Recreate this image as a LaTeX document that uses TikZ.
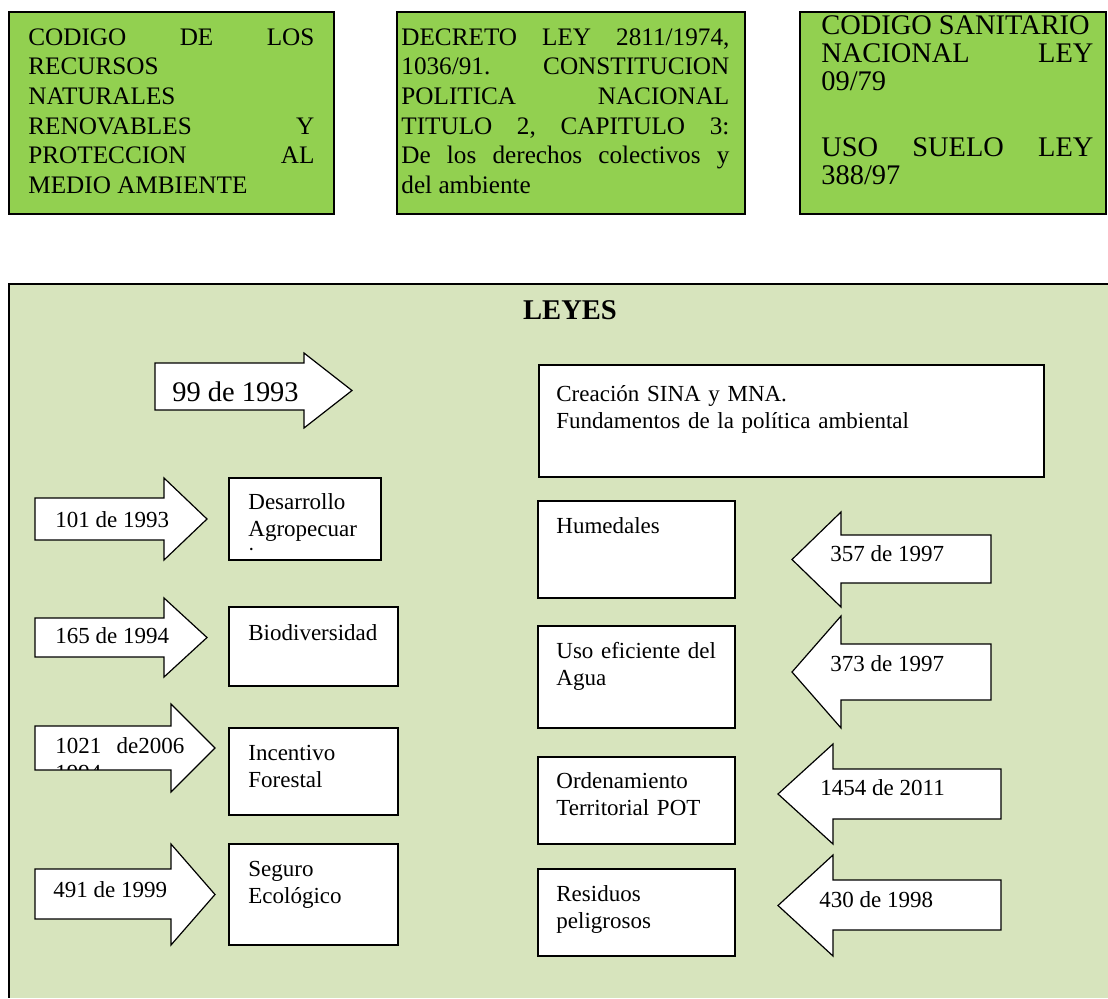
\documentclass[tikz,border=0pt]{standalone}
\usepackage{fontspec}
\setmainfont{Liberation Serif}
\usetikzlibrary{positioning}
\definecolor{leygreen}{HTML}{92D050}
\definecolor{panelgreen}{HTML}{D7E4BD}
\tikzset{
  topbox/.style={draw=black,line width=0.9pt,fill=leygreen},
  lawbox/.style={draw=black,line width=0.75pt,fill=white},
  lawarrow/.style={draw=black,line width=0.6pt,fill=white},
  toptext/.style={anchor=base west,inner sep=0pt,align=justify,text width=#1,
    font=\fontsize{12.6}{14.8}\selectfont},
  boxtext/.style={anchor=base west,inner sep=0pt,align=left,text width=#1,
    font=\fontsize{11.5}{13.5}\selectfont},
  numtext/.style={anchor=base west,inner sep=0pt,font=\fontsize{11.5}{13.5}\selectfont}
}
\begin{document}
\begin{tikzpicture}[x=0.5pt,y=-0.5pt]
\useasboundingbox (0,0) rectangle (1108,998);
% cuadros superiores
\draw[topbox] (9,12) rectangle (334,214);
\node[toptext=143pt] (codigo) at (28,45.3) {CODIGO\hfill DE\hfill LOS\\ RECURSOS\\ NATURALES\\ RENOVABLES\hfill Y\\ PROTECCION\hfill AL\\ MEDIO AMBIENTE};
\draw[topbox] (397,12) rectangle (745,214);
\node[toptext=164pt] (decreto) at (401,45.3) {DECRETO\hfill LEY\hfill 2811/1974,\\ 1036/91.\hfill CONSTITUCION\\ POLITICA\hfill NACIONAL\\ TITULO\hfill 2,\hfill CAPITULO\hfill 3:\\ De\hfill los\hfill derechos\hfill colectivos\hfill y\\ del ambiente};
\draw[topbox] (800,12) rectangle (1106,214);
\node[toptext=136pt,font=\fontsize{14.2}{14}\selectfont] (sanitario) at (821,34.4) {CODIGO SANITARIO\\ NACIONAL\hfill LEY\\ 09/79\\[19pt] USO\hfill SUELO\hfill LEY\\ 388/97};
% panel de leyes
\fill[panelgreen] (9,284) rectangle (1108,998);
\draw[line width=1.1pt] (1108,284) -- (9,284) -- (9,998);
\node[font=\bfseries\fontsize{14.3}{16}\selectfont] (leyes) at (570,310) {LEYES};
% flechas hacia la derecha
\foreach \l/\b/\t/\st/\sb/\ht/\hb in {155/304/352/363/410/353/428, 35/164/207/498/540/478/560,
  35/164/207/618/657/598/677, 35/171/215/726/770/704/792, 35/171/215/869/919/844/945} {
  \draw[lawarrow] (\l,\st) -- (\b,\st) -- (\b,\ht) -- (\t,{(\ht+\hb)/2}) -- (\b,\hb) -- (\b,\sb) -- (\l,\sb) -- cycle;
}
% flechas hacia la izquierda
\foreach \r/\b/\t/\st/\sb/\ht/\hb in {991/841/792/535/583/512/607, 991/841/792/644/700/616/728,
  1001/833/778/769/819/744/844, 1001/833/778/880/930/855/956} {
  \draw[lawarrow] (\r,\st) -- (\b,\st) -- (\b,\ht) -- (\t,{(\ht+\hb)/2}) -- (\b,\hb) -- (\b,\sb) -- (\r,\sb) -- cycle;
}
% cuadros
\foreach \xa/\ya/\xb/\yb in {539/365/1044/477, 229/478/381/560, 229/607/398/686, 229/728/398/815,
  229/844/398/945, 538/501/735/598, 538/626/735/728, 538/757/735/844, 538/869/735/956} {
  \draw[lawbox] (\xa,\ya) rectangle (\xb,\yb);
}
% numeros de las leyes
\node[numtext,font=\fontsize{14.2}{16}\selectfont] (a0) at (172,401) {99 de 1993};
\foreach \n/\x/\y/\txt in {a1/55/527/101 de 1993, a2/55/643/165 de 1994, a4/53/897/491 de 1999,
  d1/830/561/357 de 1997, d2/830/671/373 de 1997, d3/820/795/1454 de 2011, d4/819/907/430 de 1998} {
  \node[numtext] (\n) at (\x,\y) {\txt};
}
\begin{scope}
  \clip (35,700) rectangle (215,769);
  \node[boxtext=100pt] (a3) at (55,753) {1021\ \ de2006\\1994};
\end{scope}
% textos de los cuadros
\foreach \n/\x/\y/\txt in {t0/556/401/{Creación SINA y MNA.\\Fundamentos de la política ambiental},
  t2/248/640/{Biodiversidad}, t3/248/760/{Incentivo\\Forestal}, t4/248/876/{Seguro\\Ecológico},
  u1/556/533/{Humedales}, u2/556/658/{Uso eficiente del\\Agua}, u3/556/788/{Ordenamiento\\Territorial POT},
  u4/556/901/{Residuos\\peligrosos}} {
  \node[boxtext=240pt] (\n) at (\x,\y) {\txt};
}
\begin{scope}
  \clip (229,478) rectangle (381,551);
  \node[boxtext=70pt] (t1) at (248,509) {Desarrollo\\Agropecuar\\io};
\end{scope}
\end{tikzpicture}
\end{document}
